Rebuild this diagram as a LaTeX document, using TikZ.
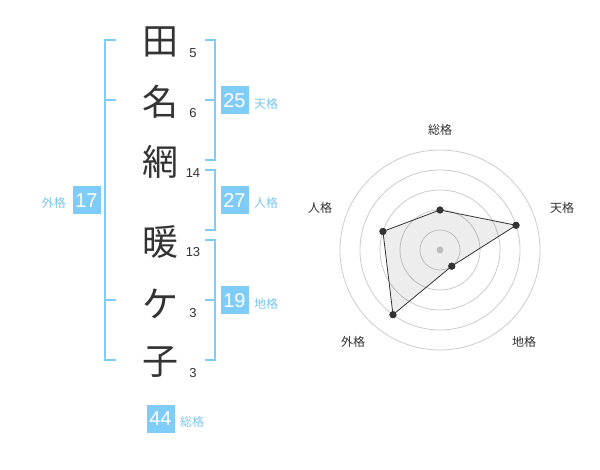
\documentclass[tikz,border=0pt]{standalone}
\usepackage{fontspec}
\setmainfont{Liberation Sans}
\newfontfamily\jp{Noto Sans CJK JP}
\usetikzlibrary{calc}
\definecolor{kblue}{HTML}{80CCF8}
\definecolor{klab}{HTML}{7EC6F0}
\definecolor{kdark}{HTML}{333333}
\definecolor{kgrid}{HTML}{CCCCCC}
\begin{document}
\begin{tikzpicture}[x=1pt,y=-1pt,
  kanji/.style={text=kdark,font=\jp\fontsize{36}{36}\selectfont,inner sep=0pt},
  strokes/.style={text=kdark,font=\fontsize{13}{13}\selectfont,inner sep=0pt},
  kbox/.style={fill=kblue,text=white,minimum width=28pt,minimum height=28pt,inner sep=0pt,font=\fontsize{20}{20}\selectfont},
  klabel/.style={text=klab,font=\jp\fontsize{12}{12}\selectfont,inner sep=0pt},
  bracket/.style={draw=kblue,line width=2pt},
  grid/.style={draw=kgrid,line width=0.8pt},
  poly/.style={draw=kdark,line width=0.8pt,fill=black,fill opacity=0.07},
  pdot/.style={circle,fill=kdark,inner sep=0pt,minimum size=7pt},
  rlabel/.style={text=kdark,font=\jp\fontsize{12}{12}\selectfont,inner sep=0pt}]
\useasboundingbox (0,0) rectangle (600,470);
\fill[white] (0,0) rectangle (600,470);
% characters
\node[kanji] (c1) at (160,42) {田};
\node[kanji] (c2) at (160,102) {名};
\node[kanji] (c3) at (160,162) {網};
\node[kanji] (c4) at (160,242) {暖};
\node[kanji] (c5) at (160,304) {ケ};
\node[kanji] (c6) at (160,362) {子};
% stroke counts
\node[strokes] (n1) at (193,53) {5};
\node[strokes] (n2) at (193,113) {6};
\node[strokes] (n3) at (193,173) {14};
\node[strokes] (n4) at (193,252) {13};
\node[strokes] (n5) at (193,313) {3};
\node[strokes] (n6) at (193,373) {3};
% brackets
\draw[bracket] (116,40) -- (105,40) -- (105,360) -- (116,360);
\draw[bracket] (105,100) -- (116,100);
\draw[bracket] (105,300) -- (116,300);
\draw[bracket] (205,40) -- (215,40) -- (215,160) -- (205,160);
\draw[bracket] (215,100) -- (205,100);
\draw[bracket] (205,170) -- (215,170) -- (215,230) -- (205,230);
\draw[bracket] (205,240) -- (215,240) -- (215,360) -- (205,360);
\draw[bracket] (215,300) -- (205,300);
% boxes and labels
\node[kbox] (b25) at (234.5,100.5) {25};
\node[klabel,anchor=west] (l25) at (254,104) {天格};
\node[kbox] (b27) at (234.5,200.5) {27};
\node[klabel,anchor=west] (l27) at (254,203) {人格};
\node[kbox] (b19) at (234.5,300.5) {19};
\node[klabel,anchor=west] (l19) at (254,304) {地格};
\node[kbox] (b17) at (86.5,200.5) {17};
\node[klabel,anchor=east] (l17) at (66,203) {外格};
\node[kbox] (b44) at (160.5,419) {44};
\node[klabel,anchor=west] (l44) at (180,422) {総格};
% radar
\coordinate (R) at (440,250);
\foreach \r in {20,40,60,80,100} \draw[grid] (R) circle[radius=\r pt];
\fill[kgrid] (R) circle[radius=3.5pt];
\node[pdot] (p1) at ($(R)+(-90:40)$) {};
\node[pdot] (p2) at ($(R)+(-18:80)$) {};
\node[pdot] (p3) at ($(R)+(54:20)$) {};
\node[pdot] (p4) at ($(R)+(126:80)$) {};
\node[pdot] (p5) at ($(R)+(-162:60)$) {};
\draw[poly] (p1.center) -- (p2.center) -- (p3.center) -- (p4.center) -- (p5.center) -- cycle;
\foreach \p in {p1,p2,p3,p4,p5} \fill[kdark] (\p) circle[radius=3.5pt];
\node[rlabel] (r1) at (440,130) {総格};
\node[rlabel] (r2) at (562,208) {天格};
\node[rlabel] (r3) at (524,342) {地格};
\node[rlabel] (r4) at (353,342) {外格};
\node[rlabel] (r5) at (320,208) {人格};
\end{tikzpicture}
\end{document}
